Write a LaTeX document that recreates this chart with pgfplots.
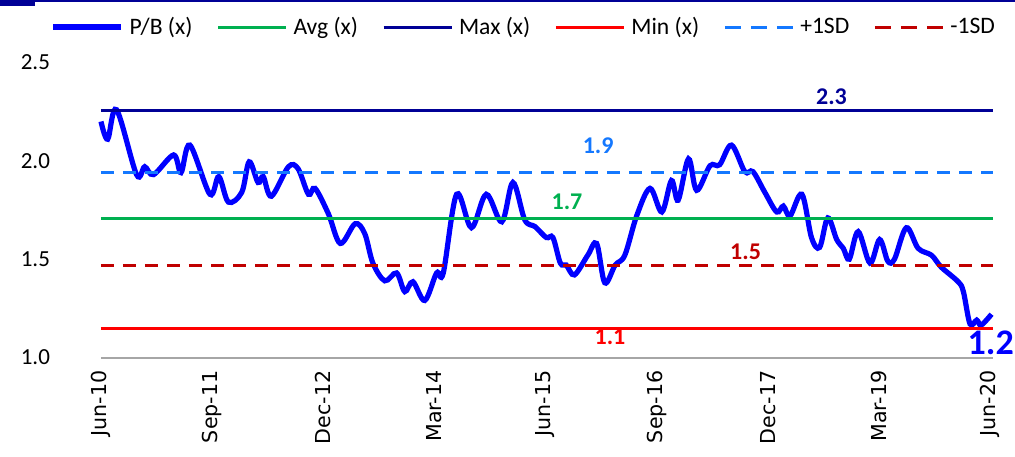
\documentclass[border=0pt]{standalone}
\usepackage{fontspec}
\setmainfont{Carlito}
\newfontfamily\dejavu{DejaVu Sans}
\usepackage{pgfplots}
\pgfplotsset{compat=1.18}

\definecolor{pbblue}{RGB}{0,0,255}
\definecolor{avggreen}{RGB}{0,176,80}
\definecolor{maxnavy}{RGB}{0,0,150}
\definecolor{minred}{RGB}{255,0,0}
\definecolor{sdblue}{RGB}{20,120,255}
\definecolor{sdred}{RGB}{192,0,0}

\begin{document}
\begin{tikzpicture}
\useasboundingbox (-50.5pt,-49.25pt) rectangle (457pt,178.75pt);
% slide border at the top
\fill[maxnavy] (-50.5pt,175.5pt) rectangle (-33pt,177.5pt);
\draw[maxnavy, line width=0.7pt] (-50.5pt,178.2pt) -- (457pt,178.2pt);
\begin{axis}[
    scale only axis,
    width=446pt, height=147.5pt,
    xmin=0, xmax=120.4,
    ymin=1.0, ymax=2.5,
    clip=false,
    axis line style={draw=none},
    major tick length=0pt,
    xtick={0,15,...,120},
    xticklabels={Jun-10,Sep-11,Dec-12,Mar-14,Jun-15,Sep-16,Dec-17,Mar-19,Jun-20},
    xticklabel style={rotate=90, anchor=east, xshift=-3pt,
        font=\dejavu\fontsize{10.3}{11}\selectfont},
    ytick={1.0,1.5,2.0,2.5},
    yticklabel style={xshift=-22pt, font=\fontsize{11.5}{12}\selectfont},
    /pgf/number format/.cd, fixed, fixed zerofill, precision=1, assume math mode=true,
    /pgfplots/.cd,
    legend columns=6,
    legend style={at={(axis description cs:0.475,1)}, anchor=center, yshift=17.75pt,
        draw=none, fill=none, font=\fontsize{11.8}{12}\selectfont,
        /tikz/every odd column/.append style={column sep=1pt},
        /tikz/every even column/.append style={column sep=10pt}},
    legend image code/.code={\draw[#1] (0pt,0pt) -- (34pt,0pt);},
  ]
  \addplot[gray!70, line width=1pt, forget plot] coordinates {(0,1.0) (120.4,1.0)};

  \addplot[pbblue, line width=2.6pt, smooth, tension=0.55] table {
    x y
    0 2.20
    0.9 2.11
    2.1 2.26
    4.8 1.93
    5.9 1.97
    7.1 1.93
    9.8 2.03
    10.8 1.94
    12.0 2.08
    14.7 1.83
    15.9 1.92
    17.2 1.79
    19.0 1.84
    20.0 1.995
    21.2 1.89
    21.9 1.92
    23.0 1.82
    25.3 1.97
    26.6 1.96
    28.0 1.83
    28.9 1.86
    30.7 1.73
    32.3 1.58
    34.3 1.68
    35.6 1.63
    36.7 1.48
    38.3 1.39
    39.9 1.43
    41.0 1.335
    42.1 1.385
    43.7 1.29
    45.3 1.43
    46.2 1.43
    48.0 1.83
    50.0 1.66
    52.0 1.83
    54.1 1.69
    55.6 1.89
    57.2 1.70
    58.6 1.665
    60.1 1.61
    61.0 1.61
    62.0 1.48
    62.8 1.47
    63.9 1.42
    65.7 1.52
    66.9 1.58
    68.0 1.38
    69.4 1.47
    70.7 1.52
    72.3 1.72
    74.1 1.86
    75.7 1.74
    77.0 1.90
    77.9 1.80
    79.3 2.01
    80.4 1.85
    82.2 1.975
    83.5 1.98
    85.1 2.08
    86.9 1.945
    88.0 1.945
    89.6 1.84
    91.2 1.74
    92.1 1.77
    93.0 1.72
    94.6 1.83
    95.9 1.61
    97.0 1.56
    98.1 1.71
    99.3 1.60
    100.2 1.555
    101.0 1.50
    102.2 1.64
    103.8 1.48
    105.1 1.60
    106.2 1.49
    107.1 1.50
    108.7 1.66
    110.3 1.555
    112.1 1.52
    113.4 1.46
    115.7 1.385
    116.4 1.335
    117.3 1.17
    118.2 1.19
    118.8 1.165
    120.2 1.22
  };
  \addlegendentry{P/B (x)}

  \addplot[avggreen, line width=1.5pt] coordinates {(0,1.705) (120.4,1.705)};
  \addlegendentry{Avg (x)}
  \addplot[maxnavy, line width=1.5pt] coordinates {(0,2.256) (120.4,2.256)};
  \addlegendentry{Max (x)}
  \addplot[minred, line width=1.5pt] coordinates {(0,1.148) (120.4,1.148)};
  \addlegendentry{Min (x)}
  \addplot[sdblue, line width=1.5pt, dash pattern=on 6.5pt off 4.5pt,
      legend image code/.code={\draw[sdblue, line width=1.5pt, dash pattern=on 8pt off 5pt] (0pt,0pt) -- (34pt,0pt);}]
      coordinates {(0,1.942) (120.4,1.942)};
  \addlegendentry{+1SD}
  \addplot[sdred, line width=1.5pt, dash pattern=on 6.5pt off 4.5pt,
      legend image code/.code={\draw[sdred, line width=1.5pt, dash pattern=on 8pt off 5pt] (0pt,0pt) -- (34pt,0pt);}]
      coordinates {(0,1.470) (120.4,1.470)};
  \addlegendentry{-1SD}

  \node[maxnavy, font=\bfseries\fontsize{12}{12}\selectfont] at (axis cs:98.6,2.324) {2.3};
  \node[sdblue, font=\bfseries\fontsize{12}{12}\selectfont] at (axis cs:67.1,2.075) {1.9};
  \node[avggreen, font=\bfseries\fontsize{12}{12}\selectfont] at (axis cs:62.9,1.79) {1.7};
  \node[sdred, font=\bfseries\fontsize{12}{12}\selectfont] at (axis cs:87,1.536) {1.5};
  \node[minred, font=\bfseries\fontsize{12}{12}\selectfont] at (axis cs:68.7,1.104) {1.1};
  \node[pbblue, font=\bfseries\fontsize{18}{18}\selectfont] at (axis cs:120.1,1.074) {1.2};
\end{axis}
\end{tikzpicture}
\end{document}
